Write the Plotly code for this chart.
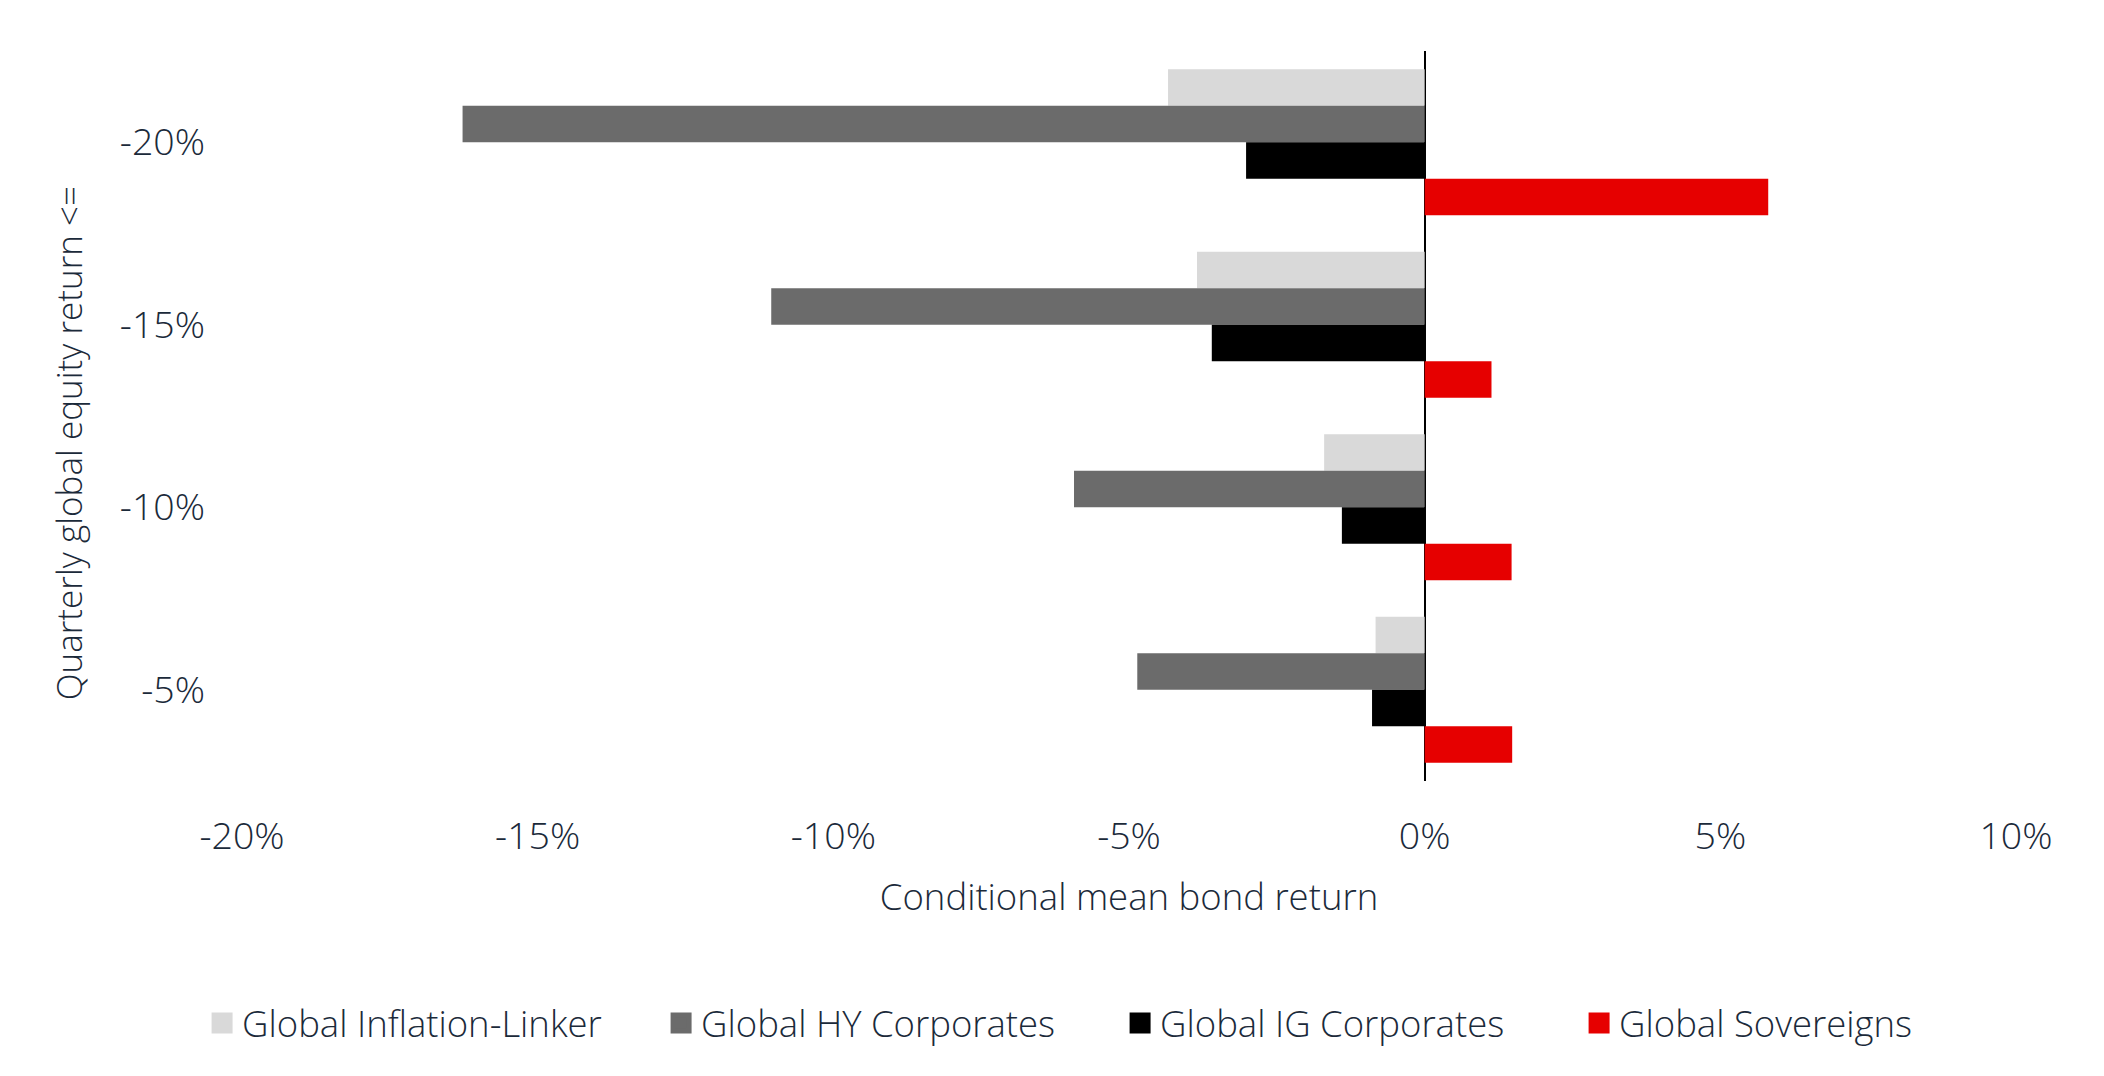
import plotly.graph_objects as go

categories = ["-20%", "-15%", "-10%", "-5%"]
series_names = ["Global Inflation-Linker", "Global HY Corporates", "Global IG Corporates", "Global Sovereigns"]
inflation_linker = [-4.34, -3.85, -1.70, -0.83]
hy_corporates = [-16.27, -11.05, -5.93, -4.86]
ig_corporates = [-3.02, -3.60, -1.40, -0.89]
sovereigns = [5.81, 1.13, 1.47, 1.48]
x_tick_values = [-20, -15, -10, -5, 0, 5, 10]
x_tick_labels = ["-20%", "-15%", "-10%", "-5%", "0%", "5%", "10%"]
y_title = "Quarterly global equity return <="
x_title = "Conditional mean bond return"

colors = ["#d9d9d9", "#6b6b6b", "#000000", "#e60000"]
series_values = [inflation_linker, hy_corporates, ig_corporates, sovereigns]
FONT = "Open Sans"
TEXT = "#1b2a3a"


def f(size):
    return dict(family=FONT, size=size, color=TEXT, weight=300)


fig = go.Figure()
for name, vals, col in zip(series_names, series_values, colors):
    fig.add_trace(go.Bar(
        y=categories, x=vals, orientation="h", name=name,
        marker=dict(color=col, line=dict(width=0)), showlegend=False,
    ))
for name, col in zip(series_names, colors):
    fig.add_trace(go.Scatter(
        x=[None], y=[None], mode="markers", name=name,
        marker=dict(symbol="square", size=16, color=col, line=dict(color=col, width=5)),
    ))

fig.add_annotation(
    text=y_title, xref="paper", yref="paper", x=-0.0978, y=0.462,
    xanchor="center", yanchor="middle", textangle=-90, showarrow=False, font=f(35),
)

fig.update_layout(
    width=2096, height=1068,
    margin=dict(l=234, r=88, t=43, b=295),
    paper_bgcolor="white", plot_bgcolor="white",
    barmode="group", bargap=0.2, bargroupgap=0,
    font=f(36.5),
    legend=dict(orientation="h", x=-0.0225, xanchor="left", y=-0.29, yanchor="top",
                entrywidth=414, entrywidthmode="pixels", font=f(36.5)),
    xaxis=dict(range=[-20, 10], tickvals=x_tick_values, ticktext=x_tick_labels,
               showgrid=False, showline=False, ticks="",
               zeroline=True, zerolinecolor="black", zerolinewidth=2,
               ticklabelstandoff=29,
               title=dict(text=x_title, standoff=25, font=f(36.5)),
               tickfont=f(37.5)),
    yaxis=dict(categoryorder="array", categoryarray=categories, autorange="reversed",
               showgrid=False, showline=False, ticks="", zeroline=False,
               ticklabelstandoff=36,
               tickfont=f(37.5)),
)

fig.write_html("out.html")
